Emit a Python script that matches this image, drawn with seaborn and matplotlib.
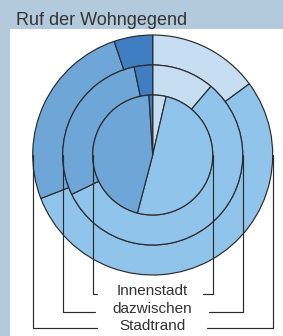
import seaborn as sns
import matplotlib.pyplot as plt
from matplotlib.patches import Rectangle

# Shares per rating (clockwise from 12 o'clock), in percent
rings = ['Innenstadt', 'dazwischen', 'Stadtrand']
innenstadt = [3.6, 50.5, 44.9, 1.0]
dazwischen = [11.2, 56.6, 28.9, 3.3]
stadtrand = [14.9, 54.2, 25.7, 5.2]

sns.set_style("white")
plt.rcParams['font.family'] = ['Liberation Sans', 'DejaVu Sans']

palette = sns.color_palette(['#c6ddf2', '#90c4ea', '#6fa6d8', '#3f7ec3'])
edge = '#2b2b2b'
W, H = 283, 336

fig = plt.figure(figsize=(W / 100, H / 100), dpi=100, facecolor='#b3cadc')
ax = fig.add_axes([0, 0, 1, 1])
ax.add_patch(Rectangle((10, 0), W - 10, H - 29, facecolor='white', edgecolor='none', zorder=0))

cx, cy = 152.7, H - 155
radii = [60, 90, 120]
series = [innenstadt, dazwischen, stadtrand]

# draw outer rings first so inner ones sit on top
for vals, r in zip(series[::-1], radii[::-1]):
    width = 30 if r > 60 else r
    ax.pie(vals, colors=palette, radius=r, center=(cx, cy), startangle=90,
           counterclock=False, frame=True,
           wedgeprops=dict(width=width, edgecolor=edge, linewidth=0.85))

# connector lines from each ring's equator to its label
line_y = [294.3, 311.7, 328.3]
text_y = [295.0, 313.0, 329.5]
gap_l = [96.7, 95.0, 97.3]
gap_r = [202.7, 209.0, 206.7]
for name, r, ly, ty, gl, gr in zip(rings, radii, line_y, text_y, gap_l, gap_r):
    y0, y1 = cy, H - ly
    ax.plot([cx - r, cx - r, gl], [y0, y1, y1], color=edge, lw=0.85, zorder=5)
    ax.plot([cx + r, cx + r, gr], [y0, y1, y1], color=edge, lw=0.85, zorder=5)
    ax.text(cx - 0.7, H - ty, name, ha='center', va='baseline', fontsize=11, color='#333333')

ax.text(16, H - 25, 'Ruf der Wohngegend', ha='left', va='baseline',
        fontsize=13, color='#333333')

ax.set_xlim(0, W)
ax.set_ylim(0, H)
ax.set_aspect('auto')
ax.axis('off')

fig.savefig('out.png', dpi=100, facecolor=fig.get_facecolor())
plt.close(fig)
